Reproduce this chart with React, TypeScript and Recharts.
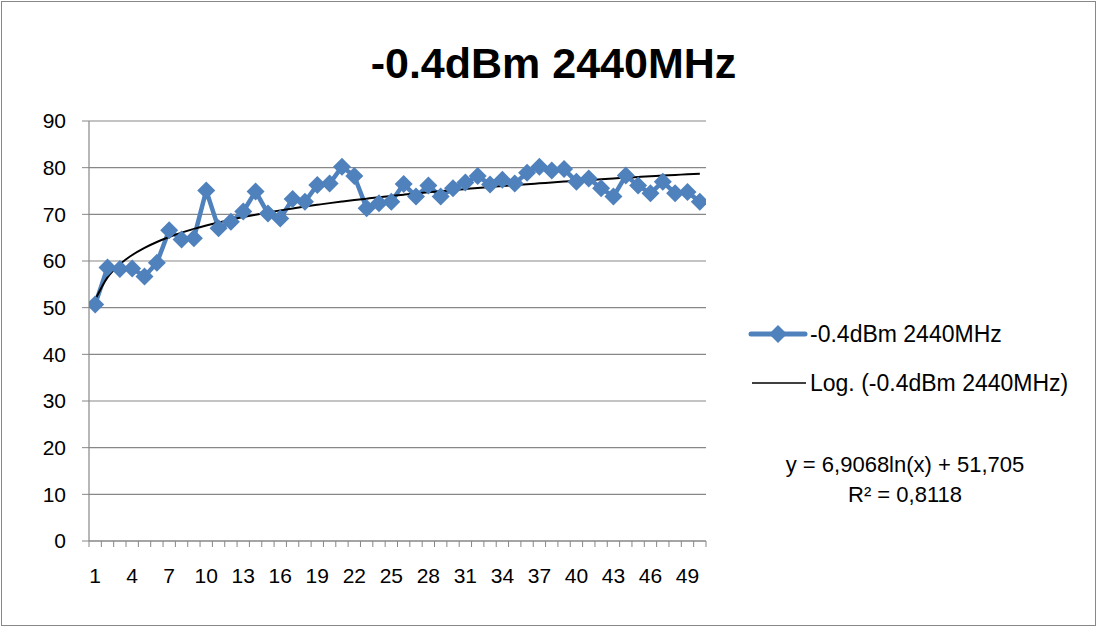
import React from 'react';
import { LineChart, Line, XAxis, YAxis, CartesianGrid } from 'recharts';

const chartTitle = '-0.4dBm 2440MHz';
const seriesName = '-0.4dBm 2440MHz';
const trendName = 'Log. (-0.4dBm 2440MHz)';
const equationLine1 = 'y = 6,9068ln(x) + 51,705';
const equationLine2 = 'R² = 0,8118';

const categories = [
  1, 2, 3, 4, 5, 6, 7, 8, 9, 10, 11, 12, 13, 14, 15, 16, 17, 18, 19, 20, 21, 22, 23, 24, 25,
  26, 27, 28, 29, 30, 31, 32, 33, 34, 35, 36, 37, 38, 39, 40, 41, 42, 43, 44, 45, 46, 47, 48, 49, 50,
];

const signalValues = [
  50.7, 58.6, 58.3, 58.4, 56.7, 59.6, 66.6, 64.6, 64.9, 75.1,
  67.0, 68.4, 70.6, 74.9, 70.2, 69.1, 73.3, 72.7, 76.3, 76.6,
  80.2, 78.2, 71.3, 72.4, 72.7, 76.5, 73.8, 76.2, 73.8, 75.6,
  76.8, 78.2, 76.4, 77.4, 76.6, 78.9, 80.2, 79.4, 79.7, 77.0,
  77.7, 75.6, 73.8, 78.3, 76.2, 74.5, 77.0, 74.5, 74.8, 72.7,
];

const trendValues = [
  51.7, 56.49, 59.29, 61.28, 62.82, 64.08, 65.15, 66.07, 66.88, 67.61,
  68.27, 68.87, 69.42, 69.93, 70.41, 70.85, 71.27, 71.67, 72.04, 72.4,
  72.73, 73.05, 73.36, 73.66, 73.94, 74.21, 74.47, 74.72, 74.96, 75.2,
  75.42, 75.64, 75.85, 76.06, 76.26, 76.46, 76.64, 76.83, 77.01, 77.18,
  77.35, 77.52, 77.68, 77.84, 78.0, 78.15, 78.3, 78.44, 78.59, 78.72,
];

const xTickLabels = [1, 4, 7, 10, 13, 16, 19, 22, 25, 28, 31, 34, 37, 40, 43, 46, 49];
const yTicks = [0, 10, 20, 30, 40, 50, 60, 70, 80, 90];
const categoryBoundaries = [...categories.map((c) => c - 0.5), categories[categories.length - 1] + 0.5];
const xTicksAll = [...categoryBoundaries, ...xTickLabels].sort((a, b) => a - b);

const data = categories.map((c, i) => ({ x: c, signal: signalValues[i], trend: trendValues[i] }));

const BLUE = '#4F81BD';
const GRID = '#878787';
const FONT = '"Liberation Sans", Arial, sans-serif';

const Diamond = (props: any) => {
  const { cx, cy } = props;
  if (cx == null || cy == null) return null;
  const r = 9;
  return <path d={`M${cx},${cy - r}L${cx + r},${cy}L${cx},${cy + r}L${cx - r},${cy}Z`} fill={BLUE} stroke="none" />;
};

const XTick = (props: any) => {
  const { x, y, payload } = props;
  const v = payload.value;
  if (xTickLabels.includes(v)) {
    return (
      <text x={x} y={y + 42} textAnchor="middle" fill="#000" fontSize={21} fontFamily={FONT}>
        {v}
      </text>
    );
  }
  return <line x1={x} x2={x} y1={y} y2={y + 6} stroke={GRID} strokeWidth={1} />;
};

const LegendBox = () => (
  <div style={{ position: 'absolute', left: 748, top: 319, fontFamily: FONT, fontSize: 23, color: '#000' }}>
    <div style={{ display: 'flex', alignItems: 'center', height: 30 }}>
      <svg width={60} height={20} style={{ marginRight: 2 }}>
        <line x1={3} y1={10} x2={57} y2={10} stroke={BLUE} strokeWidth={5} strokeLinecap="round" />
        <path d="M30,1L39,10L30,19L21,10Z" fill={BLUE} />
      </svg>
      <span>{seriesName}</span>
    </div>
    <div style={{ display: 'flex', alignItems: 'center', height: 30, marginTop: 19 }}>
      <svg width={60} height={20} style={{ marginRight: 2 }}>
        <line x1={4} y1={10} x2={58} y2={10} stroke="#000" strokeWidth={1.5} />
      </svg>
      <span>{trendName}</span>
    </div>
  </div>
);

export default function App() {
  return (
    <div style={{ position: 'fixed', left: 0, top: 0, width: 1099, height: 629, background: '#fff' }}>
      <div
        style={{
          position: 'absolute', left: 1, top: 1, width: 1095, height: 625,
          border: `1px solid ${GRID}`, boxSizing: 'border-box' as const,
        }}
      />
      <div
        style={{
          position: 'absolute', left: 0, width: 1099, top: 35, textAlign: 'center',
          fontFamily: FONT, fontWeight: 'bold', fontSize: 43, color: '#000', lineHeight: '56px',
          paddingLeft: 8, boxSizing: 'border-box' as const,
        }}
      >
        {chartTitle}
      </div>
      <div style={{ position: 'absolute', left: 0, top: 0 }}>
        <LineChart
          width={1099}
          height={629}
          data={data}
          margin={{ top: 121, right: 393, bottom: 38, left: 39 }}
        >
          <CartesianGrid horizontal vertical={false} stroke={GRID} strokeWidth={1.2} />
          <XAxis
            dataKey="x"
            type="number"
            domain={[0.5, 50.5]}
            ticks={xTicksAll}
            interval={0}
            tick={<XTick />}
            tickSize={0}
            tickMargin={0}
            tickLine={false}
            axisLine={{ stroke: GRID, strokeWidth: 1.2 }}
            height={50}
            allowDataOverflow
          />
          <YAxis
            width={50}
            domain={[0, 90]}
            ticks={yTicks}
            interval={0}
            tickSize={7}
            tickMargin={16}
            tickLine={{ stroke: GRID }}
            axisLine={{ stroke: GRID, strokeWidth: 1.2 }}
            tick={{ fill: '#000', fontSize: 21, fontFamily: FONT }}
          />
          <Line
            dataKey="signal"
            name={seriesName}
            stroke={BLUE}
            strokeWidth={4.5}
            dot={<Diamond />}
            activeDot={false}
            type="linear"
            isAnimationActive={false}
          />
          <Line
            dataKey="trend"
            name={trendName}
            stroke="#000"
            strokeWidth={2}
            dot={false}
            activeDot={false}
            type="monotone"
            isAnimationActive={false}
          />
        </LineChart>
      </div>
      <LegendBox />
      <div
        style={{
          position: 'absolute', left: 755, width: 300, top: 450, textAlign: 'center',
          fontFamily: FONT, fontSize: 22, color: '#000', lineHeight: '30px',
        }}
      >
        <div>{equationLine1}</div>
        <div>{equationLine2}</div>
      </div>
    </div>
  );
}
